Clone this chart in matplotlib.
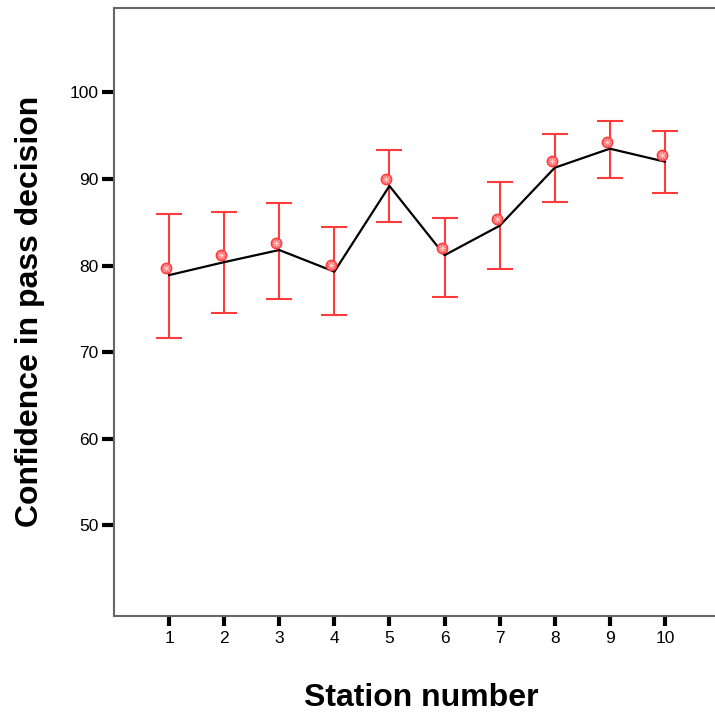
import matplotlib
matplotlib.use('Agg')
import matplotlib.pyplot as plt
import matplotlib.transforms as mtransforms

# station numbers and confidence values (mean with 95% CI)
stations = [1, 2, 3, 4, 5, 6, 7, 8, 9, 10]
means = [78.9, 80.4, 81.8, 79.3, 89.2, 81.2, 84.6, 91.3, 93.5, 92.0]
lower = [71.6, 74.5, 76.2, 74.3, 85.0, 76.4, 79.6, 87.4, 90.1, 88.4]
upper = [86.0, 86.2, 87.2, 84.5, 93.3, 85.5, 89.6, 95.2, 96.7, 95.5]
y_ticks = [50, 60, 70, 80, 90, 100]

plt.rcParams['font.family'] = ['Liberation Sans', 'DejaVu Sans']

fig = plt.figure(figsize=(7.15, 7.2), dpi=100)
ax_w = 606 / 715
ax = fig.add_axes([114 / 715, 104.5 / 720, ax_w, 608 / 720])

red = '#ff3b3b'
err_low = [m - l for m, l in zip(means, lower)]
err_high = [u - m for m, u in zip(means, upper)]
ax.errorbar(stations, means, yerr=[err_low, err_high], fmt='none',
            ecolor=red, elinewidth=1.5, capsize=9.5, capthick=1.5, zorder=2)

ax.plot(stations, means, color='black', linewidth=1.6, zorder=3)

# the mean markers sit a little up and left of the line in the original
offset = mtransforms.ScaledTranslation(-3 / 100, 7 / 100, fig.dpi_scale_trans)
ax.plot(stations, means, linestyle='none', marker='o', markersize=7.5,
        markerfacecolor='#ff7070', markeredgecolor=red, markeredgewidth=1,
        transform=ax.transData + offset, zorder=4)
ax.plot(stations, means, linestyle='none', marker='+', markersize=5,
        markeredgecolor='#ffd0d0', markeredgewidth=0.6,
        transform=ax.transData + offset, zorder=5)
ax.plot(stations, means, linestyle='none', marker='x', markersize=4,
        markeredgecolor='#ffd0d0', markeredgewidth=0.5,
        transform=ax.transData + offset, zorder=5)

ax.set_xlim(0, 11)
ax.set_ylim(39.6, 109.8)
ax.set_xticks(stations)
ax.set_yticks(y_ticks)

for side in ['left', 'top', 'bottom']:
    ax.spines[side].set_color('#666666')
    ax.spines[side].set_linewidth(1.5)
ax.spines['right'].set_visible(False)

ax.tick_params(axis='y', direction='out', length=9, width=3, color='black',
               labelsize=12.5, pad=2)
ax.tick_params(axis='x', direction='out', length=7.5, width=3, color='black',
               labelsize=12.5, pad=4)

ax.set_xlabel('Station number', fontsize=23, fontweight='bold')
ax.set_ylabel('Confidence in pass decision', fontsize=23, fontweight='bold')
ax.xaxis.set_label_coords((421 - 114) / 606, -(698 - 615.5) / 608)
ax.yaxis.set_label_coords(-(114 - 30) / 606, (615.5 - 311) / 608)
ax.xaxis.label.set_va('center')
ax.yaxis.label.set_va('center')

fig.savefig('out.png', dpi=100)
